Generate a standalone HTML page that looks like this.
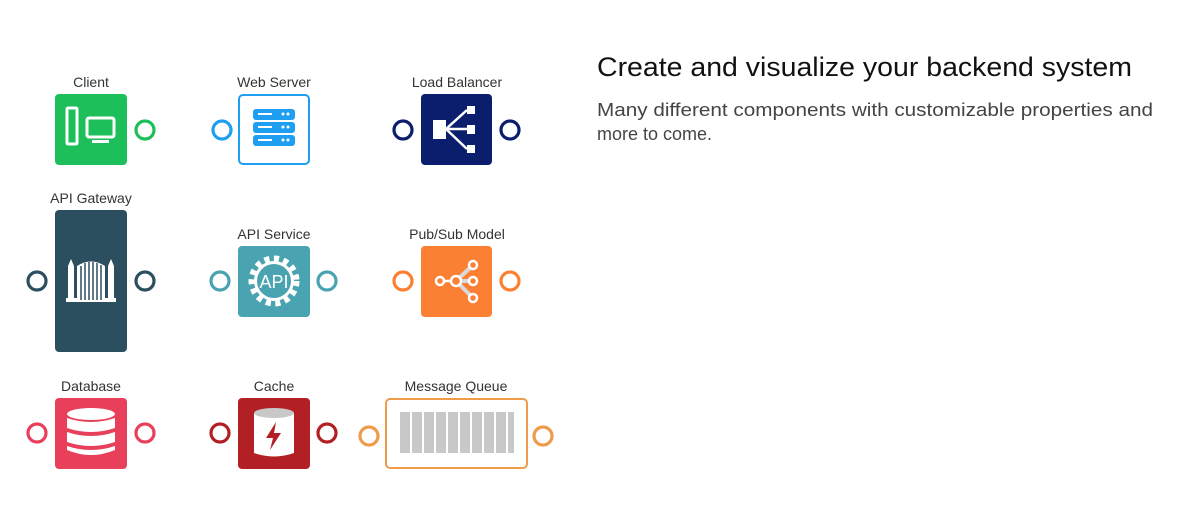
<!DOCTYPE html>
<html><head><meta charset="utf-8"><style>
html,body{margin:0;padding:0;background:#fff}
svg{display:block;font-family:"Liberation Sans",Arial,sans-serif}
</style></head><body>
<svg width="1177" height="519" viewBox="0 0 1177 519" xmlns="http://www.w3.org/2000/svg">
<g font-size="14" fill="#333" text-anchor="middle">
<text x="91" y="87">Client</text>
<text x="274" y="87">Web Server</text>
<text x="457" y="87">Load Balancer</text>
<text x="91" y="203">API Gateway</text>
<text x="274" y="239">API Service</text>
<text x="457" y="239">Pub/Sub Model</text>
<text x="91" y="391">Database</text>
<text x="274" y="391">Cache</text>
<text x="456" y="391">Message Queue</text>
</g>
<text x="597" y="76" font-size="27" fill="#111" textLength="535" lengthAdjust="spacingAndGlyphs">Create and visualize your backend system</text>
<text x="597" y="116" font-size="18" fill="#444" textLength="556" lengthAdjust="spacingAndGlyphs">Many different components with customizable properties and</text>
<text x="597" y="140" font-size="18" fill="#444">more to come.</text>

<g fill="none" stroke-width="3.2">
<circle cx="145" cy="130" r="9" stroke="#1dbf5a"/>
<circle cx="222" cy="130" r="9" stroke="#1e9ff2"/>
<circle cx="403" cy="130" r="9" stroke="#0b1e6e"/>
<circle cx="510" cy="130" r="9" stroke="#0b1e6e"/>
<circle cx="37" cy="281" r="9" stroke="#2c4f5f"/>
<circle cx="145" cy="281" r="9" stroke="#2c4f5f"/>
<circle cx="220" cy="281" r="9" stroke="#4aa3b0"/>
<circle cx="327" cy="281" r="9" stroke="#4aa3b0"/>
<circle cx="403" cy="281" r="9" stroke="#fb8033"/>
<circle cx="510" cy="281" r="9" stroke="#fb8033"/>
<circle cx="37" cy="433" r="9" stroke="#e8405a"/>
<circle cx="145" cy="433" r="9" stroke="#e8405a"/>
<circle cx="220" cy="433" r="9" stroke="#b21f24"/>
<circle cx="327" cy="433" r="9" stroke="#b21f24"/>
<circle cx="369" cy="436" r="9" stroke="#ee9b4a"/>
<circle cx="543" cy="436" r="9" stroke="#ee9b4a"/>
</g>

<!-- Client -->
<rect x="55" y="94" width="72" height="71" rx="4" fill="#1dbf5a"/>
<rect x="67" y="108" width="10" height="36" rx="1" fill="none" stroke="#fff" stroke-width="3"/>
<rect x="87" y="118" width="27" height="19" rx="2" fill="none" stroke="#fff" stroke-width="3"/>
<rect x="92" y="140" width="17" height="3" fill="#fff"/>

<!-- Web server -->
<rect x="239" y="95" width="70" height="69" rx="4" fill="#fff" stroke="#1e9ff2" stroke-width="2"/>
<g fill="#1e9ff2">
<rect x="253" y="109" width="42" height="11" rx="3"/>
<rect x="253" y="122" width="42" height="11" rx="3"/>
<rect x="253" y="135" width="42" height="11" rx="3"/>
</g>
<g fill="#fff"><rect x="258" y="113" width="14" height="2"/><rect x="258" y="126" width="14" height="2"/><rect x="258" y="139" width="14" height="2"/>
<circle cx="283" cy="114" r="1.5"/><circle cx="288" cy="114" r="1.5"/><circle cx="283" cy="127" r="1.5"/><circle cx="288" cy="127" r="1.5"/><circle cx="283" cy="140" r="1.5"/><circle cx="288" cy="140" r="1.5"/></g>

<!-- Load balancer -->
<rect x="421" y="94" width="71" height="71" rx="4" fill="#0b1e6e"/>
<g fill="#fff" stroke="#fff">
<rect x="433" y="120" width="13" height="19" stroke="none"/>
<rect x="467" y="106" width="8" height="8" stroke="none"/>
<rect x="467" y="125" width="8" height="9" stroke="none"/>
<rect x="467" y="145" width="8" height="8" stroke="none"/>
<path d="M446 129 L467 110 M446 129 L467 129 M446 129 L467 149" stroke-width="2.5" fill="none"/>
</g>

<!-- API gateway -->
<rect x="55" y="210" width="72" height="142" rx="4" fill="#2c4f5f"/>
<g fill="#fff">
<rect x="68" y="266" width="6" height="34"/><rect x="108" y="266" width="6" height="34"/>
<path d="M68 266 L71 259 L74 266Z M108 266 L111 259 L114 266Z"/>
<path d="M77 266 Q91 257 105 266 L105 300 L77 300Z"/>
<rect x="66" y="298" width="50" height="4"/>
</g>
<g stroke="#2c4f5f" stroke-width="1.5"><path d="M81 266 V300 M85 263 V300 M89 262 V300 M93 262 V300 M97 263 V300 M101 265 V300"/></g>

<!-- API service -->
<rect x="238" y="246" width="72" height="71" rx="4" fill="#4aa3b0"/>
<g fill="none" stroke="#fff" stroke-width="7" stroke-dasharray="5 4.4"><circle cx="274" cy="281" r="22"/></g>
<circle cx="274" cy="281" r="20" fill="#fff"/>
<circle cx="274" cy="281" r="17" fill="#4aa3b0"/>
<text x="274" y="288" font-size="18" fill="#fff" text-anchor="middle">API</text>

<!-- Pub/sub -->
<rect x="421" y="246" width="71" height="71" rx="4" fill="#fb8033"/>
<path d="M456 281 L473 265 M456 281 L473 281 M456 281 L473 298" stroke="#d9d9d9" stroke-width="4" fill="none"/>
<g fill="#fb8033" stroke="#fff" stroke-width="2.5">
<circle cx="440" cy="281" r="4"/><circle cx="456" cy="281" r="5"/>
<circle cx="473" cy="265" r="4"/><circle cx="473" cy="281" r="4"/><circle cx="473" cy="298" r="4"/>
</g>
<path d="M444 281 H451" stroke="#fff" stroke-width="2.5"/>

<!-- Database -->
<rect x="55" y="398" width="72" height="71" rx="4" fill="#e8405a"/>
<g fill="#fff">
<ellipse cx="91" cy="414" rx="24" ry="6"/>
<path d="M67 418 Q91 426 115 418 V428 Q91 436 67 428Z"/>
<path d="M67 432 Q91 440 115 432 V442 Q91 450 67 442Z"/>
<path d="M67 446 Q91 454 115 446 V450 Q91 460 67 450Z"/>
</g>

<!-- Cache -->
<rect x="238" y="398" width="72" height="71" rx="4" fill="#b21f24"/>
<path d="M254 413 V453 Q274 460 294 453 V413Z" fill="#fff"/>
<ellipse cx="274" cy="413" rx="20" ry="5" fill="#c8c8c8"/>
<path d="M276 422 L266 438 L273 438 L270 450 L281 433 L274 433Z" fill="#b21f24"/>

<!-- Message queue -->
<rect x="386" y="399" width="141" height="69" rx="4" fill="#fff" stroke="#ee9b4a" stroke-width="2"/>
<g fill="#c8c8c8">
<rect x="400" y="412" width="10" height="41"/><rect x="412" y="412" width="10" height="41"/><rect x="424" y="412" width="10" height="41"/><rect x="436" y="412" width="10" height="41"/><rect x="448" y="412" width="10" height="41"/><rect x="460" y="412" width="10" height="41"/><rect x="472" y="412" width="10" height="41"/><rect x="484" y="412" width="10" height="41"/><rect x="496" y="412" width="10" height="41"/><rect x="508" y="412" width="6" height="41"/>
</g>
</svg>
</body></html>
